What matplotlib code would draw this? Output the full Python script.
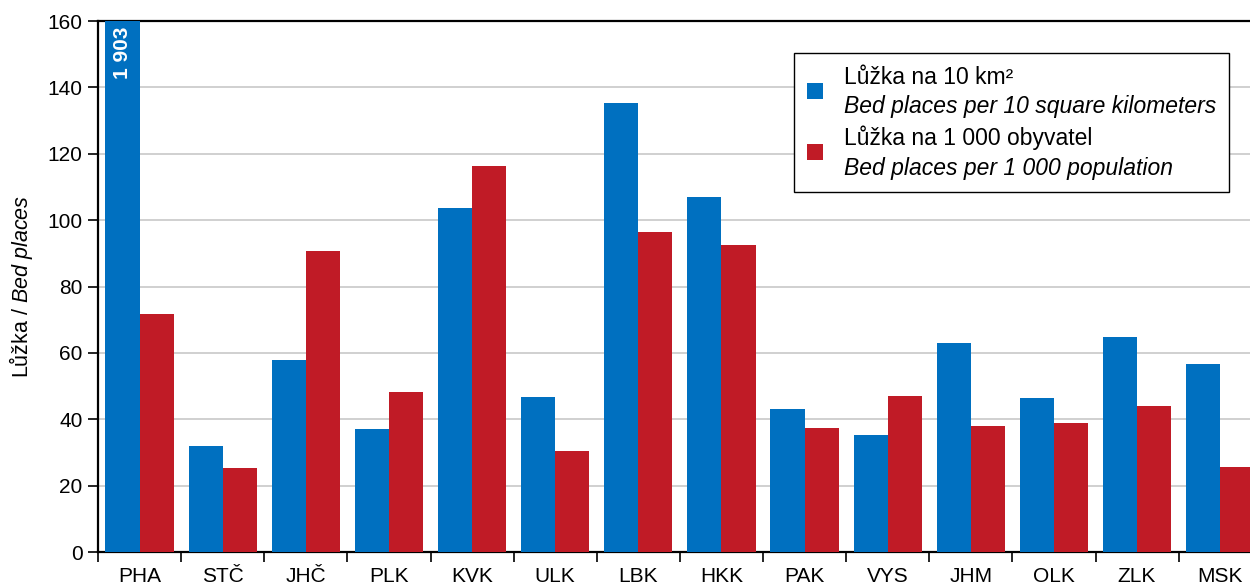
import numpy as np
import matplotlib
matplotlib.use('Agg')
import matplotlib.pyplot as plt
import matplotlib.patches as mpatches
from matplotlib.legend_handler import HandlerPatch

plt.rcParams['font.family'] = ['Liberation Sans', 'DejaVu Sans']
plt.rcParams['mathtext.fontset'] = 'custom'
plt.rcParams['mathtext.rm'] = 'Liberation Sans:italic'
plt.rcParams['mathtext.it'] = 'Liberation Sans:italic'

# data
regions = ['PHA', 'STČ', 'JHČ', 'PLK', 'KVK', 'ULK', 'LBK', 'HKK',
           'PAK', 'VYS', 'JHM', 'OLK', 'ZLK', 'MSK']
per_area = [1903, 31.9, 57.9, 37.1, 103.7, 46.7, 135.3, 107.0,
            43.1, 35.3, 63.0, 46.4, 64.8, 56.7]
per_pop = [71.7, 25.3, 90.7, 48.2, 116.3, 30.4, 96.4, 92.5,
           37.4, 47.0, 38.0, 38.9, 44.0, 25.6]
legend_cz = ['Lůžka na 10 km²', 'Lůžka na 1 000 obyvatel']
legend_en = ['Bed places per 10 square kilometers', 'Bed places per 1 000 population']

blue = '#0070C0'
red = '#C01B26'
fs = 15
lfs = 16.5

fig = plt.figure(figsize=(12.5, 5.86), dpi=100)
ax = fig.add_axes([0.0784, 0.058, 0.931, 0.906])

x = np.arange(len(regions))
w = 0.41
b1 = ax.bar(x - w/2, per_area, w, color=blue, zorder=3)
b2 = ax.bar(x + w/2, per_pop, w, color=red, zorder=3)

# PHA value is off scale
ax.text(x[0] - w/2, 158.2, '1 903', rotation=90, ha='center', va='top',
        color='white', fontsize=15, fontweight='bold', zorder=4)

ax.set_xlim(-0.5, len(regions) - 0.5)
ax.set_ylim(0, 160)
ax.set_yticks(np.arange(0, 161, 20))
ax.yaxis.grid(True, color='#C8C8C8', linewidth=1.2, zorder=0)
ax.tick_params(axis='y', labelsize=fs, length=7, width=1.2, direction='out', pad=4)

ax.set_xticks(np.arange(-0.5, len(regions), 1))
ax.set_xticklabels([])
ax.set_xticks(x, minor=True)
ax.set_xticklabels(regions, minor=True)
ax.tick_params(axis='x', which='major', length=7, width=1.2, direction='out')
ax.tick_params(axis='x', which='minor', length=0, labelsize=fs, pad=11)

for s in ['left', 'bottom', 'top']:
    ax.spines[s].set_linewidth(1.6)
    ax.spines[s].set_color('black')
ax.spines['right'].set_visible(False)

ax.set_ylabel('Lůžka / $\\mathit{Bed\\ places}$', fontsize=15.5, labelpad=9)


# legend: colour square sits between the Czech and the English line
def lowered_square(legend, orig_handle, xdescent, ydescent, width, height, fontsize):
    return mpatches.Rectangle((-xdescent, -ydescent - 0.66 * fontsize), width, height)


blank = mpatches.Patch(color='none')
handles = [b1.patches[0], blank, b2.patches[0], blank]
labels = [legend_cz[0], legend_en[0], legend_cz[1], legend_en[1]]
leg = ax.legend(handles, labels, loc='upper left', bbox_to_anchor=(0.598, 0.94),
                borderaxespad=0, fontsize=lfs, frameon=True, fancybox=False,
                edgecolor='black', framealpha=1, handlelength=0.72, handleheight=0.72,
                handletextpad=0.9, labelspacing=0.3, borderpad=0.55,
                handler_map={b1.patches[0]: HandlerPatch(patch_func=lowered_square),
                             b2.patches[0]: HandlerPatch(patch_func=lowered_square)})
leg.get_frame().set_linewidth(1.0)
for t in leg.get_texts()[1::2]:
    t.set_style('italic')

fig.savefig('out.png', dpi=100)
